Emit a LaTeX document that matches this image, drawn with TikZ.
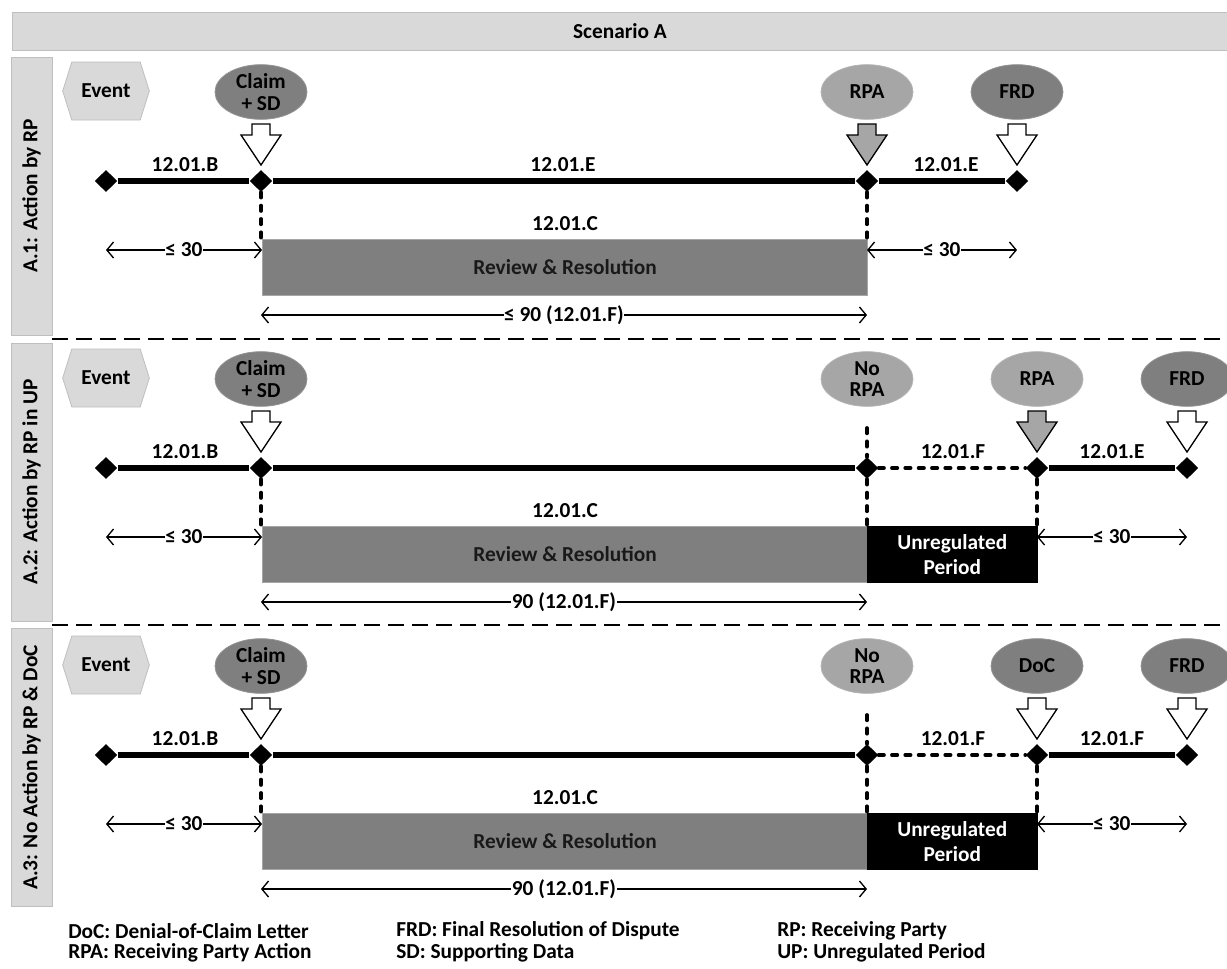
\documentclass[tikz,border=0pt]{standalone}
\usepackage{fontspec}
\setmainfont{Carlito}
\usetikzlibrary{shapes.geometric,shapes.symbols,arrows.meta}
\definecolor{lg}{HTML}{D9D9D9}
\definecolor{lgb}{HTML}{BFBFBF}
\definecolor{dg}{HTML}{7F7F7F}
\definecolor{mg}{HTML}{A6A6A6}
\tikzset{
  pics/barrow/.style={code={\draw[line width=1pt,fill=#1,line join=miter]
    (-9,0) -- (9,0) -- (9,11) -- (20,11) -- (0,41) -- (-20,11) -- (-9,11) -- cycle;}},
  dia/.style={diamond,fill=black,inner sep=0pt,minimum width=17pt,minimum height=16.5pt},
  elld/.style={ellipse,fill=dg,draw=dg!85!white,line width=0.6pt,minimum width=69pt,minimum height=41pt,inner sep=0pt,align=center},
  elll/.style={ellipse,fill=mg,draw=mg!85!white,line width=0.6pt,minimum width=69pt,minimum height=41pt,inner sep=0pt,align=center},
  eventbox/.style={signal,signal to=west and east,signal pointer angle=145,fill=lg,draw=lgb,line width=0.6pt,minimum width=65pt,minimum height=43.5pt,inner sep=0pt},
  tl/.style={line width=4pt},
  dotln/.style={line width=2.8pt,dash pattern=on 4pt off 6pt,line cap=round},
  dim/.style={{Straight Barb[length=5pt,width=12pt,line width=1pt]}-{Straight Barb[length=5pt,width=12pt,line width=1pt]},line width=0.9pt},
  dimlbl/.style={fill=white,inner sep=0.5pt},
  review/.style={fill=dg,draw=mg,line width=0.8pt,minimum width=453.75pt,minimum height=42pt,inner sep=0pt,anchor=north west,text=black!90},
  unreg/.style={fill=black,draw=black,minimum width=127.5pt,minimum height=42pt,inner sep=0pt,anchor=north west,text=white,align=center},
  sidebox/.style={rotate=90,fill=lg,draw=lgb,line width=0.6pt,minimum width=208.5pt,minimum height=30.75pt,inner sep=0pt},
  sepline/.style={line width=1.6pt,dash pattern=on 12pt off 6pt},
  lbl/.style={inner sep=0pt},
  legend/.style={anchor=west,inner sep=0pt}
}
\begin{document}
\begin{tikzpicture}[x=0.75pt,y=-0.75pt,every node/.style={font=\fontsize{16}{19}\selectfont\bfseries}]
\useasboundingbox (0,0) rectangle (1227,968);
% title
\node[fill=lg,draw=lgb,line width=0.6pt,minimum width=914pt,minimum height=28.5pt,anchor=north west,inner sep=0pt] (title) at (12,12) {};
\node[lbl] (titletext) at (620,31) {Scenario A};
% separators
\coordinate (s1a) at (52,339); \coordinate (s1b) at (1227,339);
\coordinate (s2a) at (52,625); \coordinate (s2b) at (1227,625);
\draw[sepline] (s1a) -- (s1b);
\draw[sepline] (s2a) -- (s2b);
% side labels
\node[sidebox] (sb0) at (31.5,196) {A.1: Action by RP};
\node[sidebox] (sb1) at (31.5,482) {A.2: Action by RP in UP};
\node[sidebox] (sb2) at (31.5,767.5) {A.3: No Action by RP \& DoC};
% common parts
\foreach \r in {0,1,2}{
\begin{scope}[shift={(0,287*\r)}]
  \node[eventbox] (ev\r) at (106,91) {Event};
  \node[elld] (cl\r) at (261,92) {Claim\\[-3pt]+ SD};
  \pic at (261,124) {barrow=white};
  \node[dia] (a\r) at (106,181) {};
  \node[dia] (c\r) at (261,181) {};
  \node[lbl] (lb\r) at (185,165) {12.01.B};
  \node[lbl] (lc\r) at (565,224) {12.01.C};
  \node[review] (rv\r) at (262,239) {Review \& Resolution};
  \coordinate (la\r) at (106,250);
  \draw[dim] (la\r) -- node[dimlbl]{≤ 30} (la\r -| rv\r.west);
  \draw[dotln] (c\r.south) -- (c\r.south |- rv\r.north);
  \draw[tl] (a\r) -- (c\r);
\end{scope}
}
% ---------- row A.1
\node[elll] (rpa0) at (867,92) {RPA};
\pic at (867,124) {barrow=mg};
\node[elld] (frd0) at (1017,92) {FRD};
\pic at (1017,124) {barrow=white};
\node[dia] (r0) at (867,181) {};
\node[dia] (f0) at (1017,181) {};
\draw[tl] (c0) -- (r0);
\draw[tl] (r0) -- (f0);
\node[lbl] (le0) at (563,165) {12.01.E};
\node[lbl] (le0b) at (946,165) {12.01.E};
\draw[dotln] (r0.south) -- (r0.south |- rv0.north);
\coordinate (ra0) at (1017,250);
\draw[dim] (r0 |- ra0) -- node[dimlbl]{≤ 30} (ra0);
\coordinate (na0) at (261,315); \coordinate (nb0) at (867,315);
\draw[dim] (na0) -- node[dimlbl]{≤ 90 (12.01.F)} (nb0);
% ---------- row A.2
\node[elll] (nr1) at (867,379) {No\\[-3pt]RPA};
\node[elll] (rpa1) at (1037,379) {RPA};
\pic at (1037,411) {barrow=mg};
\node[elld] (frd1) at (1187,379) {FRD};
\pic at (1187,411) {barrow=white};
\node[dia] (n1) at (867,468) {};
\node[dia] (r1) at (1037,468) {};
\node[dia] (f1) at (1187,468) {};
\draw[tl] (c1) -- (n1);
\draw[dotln] (n1) -- (r1);
\draw[tl] (r1) -- (f1);
\node[unreg] (up1) at (867,526) {Unregulated\\Period};
\coordinate (nt1) at (867,428);
\draw[dotln] (nt1) -- (n1.north);
\draw[dotln] (n1.south) -- (n1.south |- up1.north);
\draw[dotln] (r1.south) -- (r1.south |- up1.north);
\node[lbl] (lf1) at (953,452) {12.01.F};
\node[lbl] (le1) at (1112,452) {12.01.E};
\coordinate (ra1) at (1187,537);
\draw[dim] (r1 |- ra1) -- node[dimlbl]{≤ 30} (ra1);
\coordinate (na1) at (261,602); \coordinate (nb1) at (867,602);
\draw[dim] (na1) -- node[dimlbl]{90 (12.01.F)} (nb1);
% ---------- row A.3
\node[elll] (nr2) at (867,666) {No\\[-3pt]RPA};
\node[elld] (doc2) at (1037,666) {DoC};
\pic at (1037,698) {barrow=white};
\node[elld] (frd2) at (1187,666) {FRD};
\pic at (1187,698) {barrow=white};
\node[dia] (n2) at (867,755) {};
\node[dia] (r2) at (1037,755) {};
\node[dia] (f2) at (1187,755) {};
\draw[tl] (c2) -- (n2);
\draw[dotln] (n2) -- (r2);
\draw[tl] (r2) -- (f2);
\node[unreg] (up2) at (867,813) {Unregulated\\Period};
\coordinate (nt2) at (867,715);
\draw[dotln] (nt2) -- (n2.north);
\draw[dotln] (n2.south) -- (n2.south |- up2.north);
\draw[dotln] (r2.south) -- (r2.south |- up2.north);
\node[lbl] (lf2) at (953,739) {12.01.F};
\node[lbl] (lf2b) at (1112,739) {12.01.F};
\coordinate (ra2) at (1187,824);
\draw[dim] (r2 |- ra2) -- node[dimlbl]{≤ 30} (ra2);
\coordinate (na2) at (261,889); \coordinate (nb2) at (867,889);
\draw[dim] (na2) -- node[dimlbl]{90 (12.01.F)} (nb2);
% legend
\node[legend] (g1) at (68,931) {DoC: Denial-of-Claim Letter};
\node[legend] (g2) at (68,953) {RPA: Receiving Party Action};
\node[legend] (g3) at (396,931) {FRD: Final Resolution of Dispute};
\node[legend] (g4) at (396,953) {SD: Supporting Data};
\node[legend] (g5) at (777,931) {RP: Receiving Party};
\node[legend] (g6) at (777,953) {UP: Unregulated Period};
\end{tikzpicture}
\end{document}
